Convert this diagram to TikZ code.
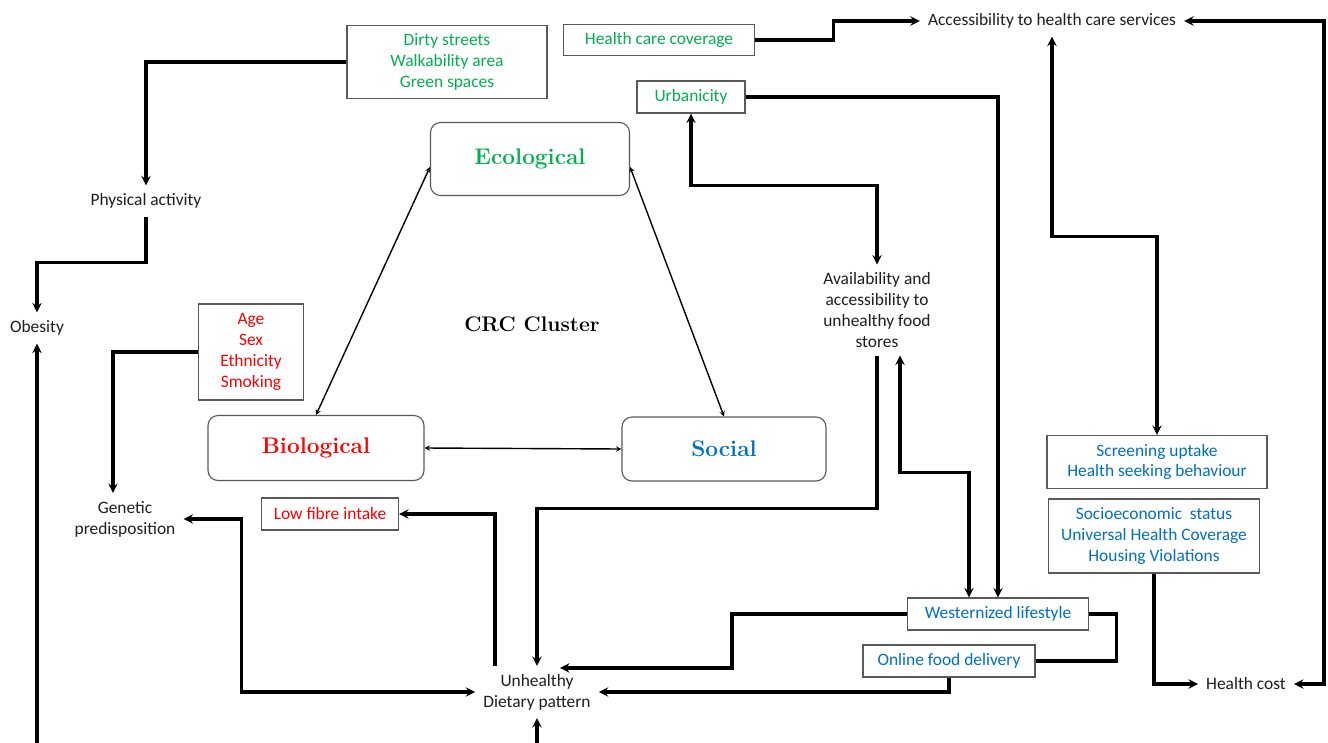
\documentclass[tikz,border=0pt]{standalone}
\usepackage{fontspec}
\setsansfont{Carlito}
\usetikzlibrary{arrows, calc, positioning}
\definecolor{ecogreen}{RGB}{0,176,80}
\definecolor{biored}{RGB}{255,0,0}
\definecolor{socblue}{RGB}{0,112,192}
\definecolor{inkgray}{RGB}{30,30,30}

\begin{document}
\begin{tikzpicture}[x=1pt, y=-1pt, >=stealth, font=\sffamily\fontsize{17.4}{20.8}\selectfont]
	\tikzstyle{factor} = [draw=black!65, line width=1.1pt, align=center, inner sep=0pt]
	\tikzstyle{cluster} = [draw=black!65, line width=1.1pt, rounded corners=10pt, inner sep=0pt,
		font=\rmfamily\bfseries\fontsize{22.6}{26}\selectfont]
	\tikzstyle{label} = [align=center, inner sep=8pt, text=inkgray]
	\tikzstyle{link} = [line width=3.1pt]
	\tikzstyle{thinlink} = [line width=1.4pt]

	\useasboundingbox (0,0) rectangle (1328,742);
	\clip (0,0) rectangle (1328,742);

	% boxes
	\node[factor, text=ecogreen, minimum width=200pt, minimum height=73pt] (streets) at (447,62) {Dirty streets\\Walkability area\\Green spaces};
	\node[factor, text=ecogreen, minimum width=191pt, minimum height=31pt] (coverage) at (659,40) {Health care coverage};
	\node[factor, text=ecogreen, minimum width=108pt, minimum height=32pt] (urban) at (691,97) {Urbanicity};
	\node[factor, text=biored, minimum width=105pt, minimum height=96pt] (demo) at (251,352) {Age\\Sex\\Ethnicity\\Smoking};
	\node[factor, text=biored, minimum width=137pt, minimum height=32pt] (fibre) at (330,514) {Low fibre intake};
	\node[factor, text=socblue, minimum width=220pt, minimum height=53pt] (screen) at (1157,462) {Screening uptake\\Health seeking behaviour};
	\node[factor, text=socblue, minimum width=211pt, minimum height=74pt] (ses) at (1154,536) {Socioeconomic~ status\\Universal Health Coverage\\Housing Violations};
	\node[factor, text=socblue, minimum width=181pt, minimum height=32pt] (west) at (998,614) {Westernized lifestyle};
	\node[factor, text=socblue, minimum width=172pt, minimum height=32pt] (online) at (949,661) {Online food delivery};

	% clusters
	\node[cluster, text=ecogreen, minimum width=199pt, minimum height=73pt] (eco) at (530,159) {Ecological};
	\node[cluster, text=biored, minimum width=216pt, minimum height=65pt] (bio) at (316,448) {Biological};
	\node[cluster, text=socblue, minimum width=204pt, minimum height=64pt] (soc) at (724,449) {Social};
	\node[font=\rmfamily\bfseries\fontsize{21.1}{24}\selectfont] (crc) at (532,324) {CRC Cluster};

	% plain labels
	\node[label] (access) at (1052,21) {Accessibility to health care services};
	\node[label] (activity) at (146,201) {Physical activity};
	\node[label] (obesity) at (37,328) {Obesity};
	\node[label] (stores) at (877,310) {Availability and\\accessibility to\\unhealthy food\\stores};
	\node[label] (genetic) at (125,519) {Genetic\\predisposition};
	\node[label] (diet) at (537,692) {Unhealthy\\Dietary pattern};
	\node[label] (cost) at (1246,684) {Health cost};

	% cluster links
	\draw[thinlink, <->] ([yshift=-8pt]eco.west) -- (bio.north);
	\draw[thinlink, <->] ([yshift=-8pt]eco.east) -- (soc.north);
	\draw[thinlink, <->] (bio.east) -- (soc.west);

	% factor links
	\draw[link, ->] (streets.west) -| (activity.north);
	\draw[link, ->] (activity.south) -- ++(0,46) -| (obesity.north);
	\draw[link, <->] (obesity.south) -- ++(0,430) -| (diet.south);
	\draw[link, ->] (demo.west) -| ([xshift=-12pt]genetic.north);
	\draw[link, ->] (coverage.east) -- ++(78,0) |- (access.west);
	\draw[link, <->] (access.east) -| ([xshift=30pt]cost.east) -- (cost.east);
	\draw[link, <->] (access.south) -- ++(0,200) -| (screen.north);
	\draw[link, <->] (urban.south) -- ++(0,72) -| (stores.north);
	\draw[link, ->] (urban.east) -| (west.north);
	\draw[link, ->] (stores.south) -- ++(0,153) -| (diet.north);
	\draw[link, <->] ([xshift=23pt]stores.south) -- ++(0,117) -| ([xshift=-29pt]west.north);
	\draw[link, ->] (west.west) -- ++(-175,0) |- ([xshift=23pt, yshift=-2pt]diet.north);
	\draw[link] (west.east) -- ++(27,0) |- (online.east);
	\draw[link, ->] (online.south) |- (diet.east);
	\draw[link, ->] ([xshift=-42pt]diet.north) |- (fibre.east);
	\draw[link, <->] (genetic.east) -| ($(diet.west)+(-234,0)$) -- (diet.west);
	\draw[link, ->] (ses.south) |- (cost.west);
\end{tikzpicture}
\end{document}
